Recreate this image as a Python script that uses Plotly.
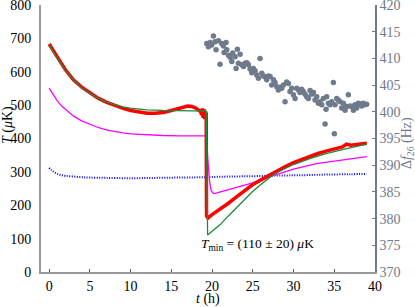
import plotly.graph_objects as go

# ---- data ----
red_t = [0, 0.5, 1, 1.5, 2, 3, 4, 5, 6, 7, 8, 9, 10, 11, 12, 13, 14, 15, 16, 17, 17.5, 18, 18.5,
         18.6, 18.7, 18.8, 18.9, 19.0, 19.1, 19.2, 19.28, 19.32, 19.5, 20, 20.5, 21, 22, 23, 24, 25, 26,
         27, 28, 29, 30, 31, 32, 33, 34, 35, 36, 36.5, 37, 38, 39]
red_T = [683, 662, 645, 625, 606, 575, 554, 537, 521, 509, 499, 491, 484, 479, 476, 476, 478, 484, 491, 497, 496, 491, 482,
         486, 470, 490, 462, 488, 458, 480, 475, 168, 162, 172, 180, 188, 206, 225, 243, 262, 276,
         290, 303, 316, 328, 337, 347, 355, 362, 368, 375, 383, 380, 383, 386]

green_t = [0, 1, 2, 3, 4, 5, 6, 7, 8, 9, 10, 11, 12, 14, 16, 18, 19.28, 19.45, 20, 20.5, 21, 22, 23, 24,
           25, 26, 27, 28, 30, 32, 34, 36, 38, 39]
green_T = [680, 640, 605, 575, 552, 535, 520, 509, 501, 495, 491, 488, 486, 484, 483, 482, 482, 111, 122, 132, 142, 168, 193, 218,
           242, 262, 282, 298, 322, 340, 355, 367, 377, 383]

mag_t = [0, 0.5, 1, 1.5, 2, 3, 4, 5, 6, 7, 8, 9, 10, 12, 14, 16, 19.28, 19.5, 19.7, 19.9, 20.2, 20.6,
         21.5, 22.5, 24, 25.3, 27, 28.8, 30, 32.8, 35, 37, 39]
mag_T = [551, 530, 513, 498, 487, 467, 453, 442, 433, 426, 421, 417, 414, 411, 409, 408, 408, 330, 270, 243, 235, 237,
         243, 250, 260, 269, 285, 300, 308, 325, 333, 340, 346]

blue_t = [0, 0.3, 0.7, 1, 1.5, 2, 3, 4, 5, 7, 10, 13, 16, 19, 22, 25, 28, 31, 34, 37, 39]
blue_T = [312, 305, 298, 294, 290, 288, 286, 284, 283, 282, 281, 282, 283, 284, 286, 287, 289, 290, 292, 293, 294]

df_t = [19.35, 19.55, 19.76, 19.96, 20.17, 20.37, 20.49, 20.78, 20.98, 21.19, 21.39, 21.48, 21.72, 21.80,
        22.01, 22.21, 22.42, 22.54, 22.82, 22.95, 23.11, 23.23, 23.44, 23.64, 23.85, 24.05, 24.26, 24.46,
        24.67, 24.87, 25.07, 25.28, 25.48, 25.69, 25.89, 26.10, 26.30, 26.51, 26.71, 26.91, 27.12, 27.32,
        27.53, 27.73, 27.94, 28.14, 28.35, 28.55, 28.76, 28.96, 29.16, 29.37, 29.57, 29.78, 29.98, 30.19,
        30.39, 30.60, 30.80, 31.00, 31.21, 31.41, 31.62, 31.82, 32.03, 32.23, 32.44, 32.64, 32.85, 33.05,
        33.25, 33.46, 33.66, 33.87, 33.99, 34.07, 34.28, 34.48, 34.69, 34.89, 35.01, 35.10, 35.30, 35.50,
        35.71, 35.91, 36.12, 36.32, 36.53, 36.73, 36.94, 37.14, 37.35, 37.55, 37.75, 37.96, 38.16, 38.37,
        38.57, 38.78, 38.98]
df_f = [412.8, 412.2, 413.0, 412.5, 414.2, 413.1, 411.6, 413.3, 408.9, 412.8, 412.3, 411.1, 413.0, 411.6,
        410.6, 410.2, 409.4, 411.0, 410.3, 408.1, 411.7, 409.1, 410.8, 408.8, 408.5, 409.1, 409.2, 408.8,
        408.0, 407.3, 408.1, 407.7, 406.9, 406.3, 410.0, 407.2, 406.7, 406.5, 406.0, 406.7, 406.6, 405.0,
        406.0, 405.5, 404.7, 404.1, 404.6, 404.4, 405.0, 401.9, 405.6, 405.3, 403.8, 404.4, 403.2, 402.5,
        404.4, 404.1, 403.6, 404.2, 403.8, 403.3, 402.8, 402.5, 404.0, 403.3, 403.6, 402.2, 402.8, 401.6,
        401.9, 401.3, 402.5, 397.7, 400.5, 402.8, 401.6, 401.3, 401.9, 405.5, 395.9, 401.3, 402.5, 402.2,
        401.9, 400.7, 401.6, 400.3, 401.0, 403.2, 401.1, 401.0, 400.3, 401.3, 400.7, 401.6, 401.5, 401.1,
        401.6, 401.3, 401.4]

x_ticks = [0, 5, 10, 15, 20, 25, 30, 35, 40]
y_ticks = [0, 100, 200, 300, 400, 500, 600, 700, 800]
y2_ticks = [370, 375, 380, 385, 390, 395, 400, 405, 410, 415, 420]

FONT = "Liberation Serif"
SLATE = "#6f7a8c"
AXG = "#9a9a9a"
FS = 14

fig = go.Figure()
fig.add_trace(go.Scatter(x=blue_t, y=blue_T, mode="lines",
                         line=dict(color="#0000ff", width=2, dash="1px,1.5px", shape="spline"),
                         showlegend=False))
fig.add_trace(go.Scatter(x=mag_t, y=mag_T, mode="lines",
                         line=dict(color="#ff00ff", width=1.3, shape="linear"), showlegend=False))
fig.add_trace(go.Scatter(x=red_t, y=red_T, mode="lines",
                         line=dict(color="#ff0000", width=3.5), showlegend=False))
fig.add_trace(go.Scatter(x=green_t, y=green_T, mode="lines",
                         line=dict(color="#1f8a3a", width=1.3), showlegend=False))
fig.add_trace(go.Scatter(x=df_t, y=df_f, mode="markers", yaxis="y2",
                         marker=dict(color=SLATE, size=5.5), showlegend=False))

fig.update_layout(
    width=415, height=307,
    margin=dict(l=41, r=40, t=5, b=35, autoexpand=False),
    paper_bgcolor="white", plot_bgcolor="white",
    font=dict(family=FONT, size=FS, color="black"),
    xaxis=dict(range=[-1, 40], tickvals=x_ticks, showgrid=False, zeroline=False, automargin=False,
               showline=True, linecolor=AXG, linewidth=2, ticks="inside", ticklen=3,
               tickcolor="#555", tickwidth=1, ticklabeloverflow="allow", ticklabelstandoff=0),
    xaxis2=dict(range=[-1, 40], overlaying="x", side="top", tickvals=x_ticks, automargin=False,
                showticklabels=False, ticks="inside", ticklen=4, tickcolor="#555",
                showgrid=False, zeroline=False, showline=False),
    yaxis=dict(range=[0, 800], tickvals=y_ticks, showgrid=False, zeroline=False, automargin=False,
               showline=True, linecolor=AXG, linewidth=2, ticks="", ticklabelstandoff=5,
               ticklabeloverflow="allow"),
    yaxis2=dict(range=[370, 420], tickvals=y2_ticks, overlaying="y", side="right", automargin=False,
                showgrid=False, zeroline=False, showline=True, linecolor=SLATE, linewidth=1.5,
                ticks="inside", ticklen=3, tickcolor=SLATE, tickfont=dict(color=SLATE),
                ticklabeloverflow="allow"),
)

fig.add_annotation(x=-0.099, y=0.55, xref="paper", yref="paper", text="<i>T</i> (<i>μ</i>K)",
                   showarrow=False, textangle=-90, xanchor="center", yanchor="middle",
                   font=dict(size=FS))
fig.add_annotation(x=1.096, y=0.483, xref="paper", yref="paper", text="Δ<i>f</i><sub>26</sub> (Hz)",
                   showarrow=False, textangle=-90, xanchor="center", yanchor="middle",
                   font=dict(size=FS, color=SLATE))
fig.add_annotation(x=0.5, y=-0.102, xref="paper", yref="paper", text="<i>t</i> (h)",
                   showarrow=False, xanchor="center", yanchor="middle", font=dict(size=FS))
fig.add_annotation(x=25.6, y=81, xref="x", yref="y",
                   text="<i>T</i><sub>min</sub> = (110 ± 20) <i>μ</i>K",
                   showarrow=False, xanchor="center", yanchor="middle", font=dict(size=13.5))

fig.write_html("out.html", config={"displayModeBar": False},
               post_script="document.body.style.margin='0px';document.body.style.overflow='hidden';")
